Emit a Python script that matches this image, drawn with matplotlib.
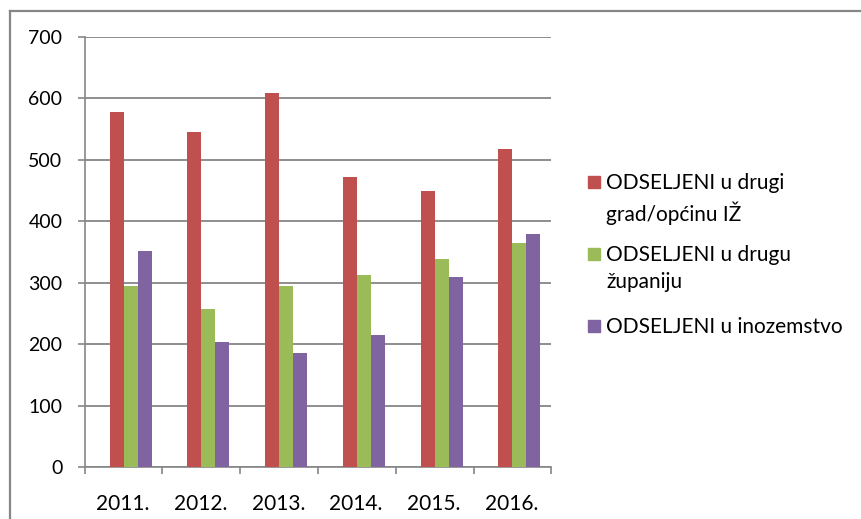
import numpy as np
import matplotlib.pyplot as plt
from matplotlib.lines import Line2D
from matplotlib.patches import Rectangle

years = ['2011.', '2012.', '2013.', '2014.', '2015.', '2016.']
grad = [578, 545, 609, 472, 449, 518]
zupanija = [294, 258, 294, 313, 339, 365]
inozemstvo = [351, 203, 186, 215, 309, 379]
labels = ['ODSELJENI u drugi\ngrad/općinu IŽ',
          'ODSELJENI u drugu\nžupaniju',
          'ODSELJENI u inozemstvo']
colors = ['#C0504D', '#9BBB59', '#8064A2']

W, H = 862, 519
GRID = '#868686'
plt.rcParams['font.family'] = ['Lato', 'DejaVu Sans']


def fx(x):
    return x / W


def fy(y):
    return 1 - y / H


fig = plt.figure(figsize=(W / 100, H / 100), dpi=100)
ax = fig.add_axes([fx(84.7), fy(467.3), (551.3 - 84.7) / W, (467.3 - 36.8) / H])

x = np.arange(len(years))
bw = 0.18
for k, vals in enumerate([grad, zupanija, inozemstvo]):
    ax.bar(x + (k - 1) * bw, vals, width=bw, color=colors[k], zorder=3)

ax.set_xlim(-0.59, len(years) - 0.59)
ax.set_ylim(0, 700)
ax.set_yticks(range(0, 701, 100))
ax.yaxis.grid(True, color=GRID, lw=1.3, zorder=0)

# category boundaries as ticks, year labels between them
ax.set_xticks(np.arange(len(years) + 1) - 0.59)
ax.set_xticklabels([])
ax.set_xticks(x - 0.1, minor=True)
ax.set_xticklabels(years, minor=True)
ax.tick_params(axis='x', which='major', direction='out', length=5, width=1.2, color=GRID)
ax.tick_params(axis='x', which='minor', length=0, pad=19, labelsize=15)
ax.tick_params(axis='y', direction='out', length=5, width=1.2, color=GRID, pad=11, labelsize=14)

for s in ['top', 'right']:
    ax.spines[s].set_visible(False)
for s in ['left', 'bottom']:
    ax.spines[s].set_color(GRID)
    ax.spines[s].set_linewidth(1.2)

# legend drawn by hand so the marker sits on the first line
ys = [181.7, 254, 326]
for lab, c, yc in zip(labels, colors, ys):
    fig.add_artist(Rectangle((fx(588.5), fy(yc + 6)), 11.5 / W, 12 / H,
                             transform=fig.transFigure, color=c))
    fig.text(fx(606), fy(yc - 9), lab, fontsize=15, va='top', ha='left',
             linespacing=1.45, color='black')

# chart frame (top and left edges visible)
fig.add_artist(Line2D([fx(10), 1], [fy(11), fy(11)], color=GRID, lw=1.6,
                      transform=fig.transFigure))
fig.add_artist(Line2D([fx(10), fx(10)], [fy(11), 0], color=GRID, lw=1.6,
                      transform=fig.transFigure))

fig.savefig('out.png', dpi=100)
